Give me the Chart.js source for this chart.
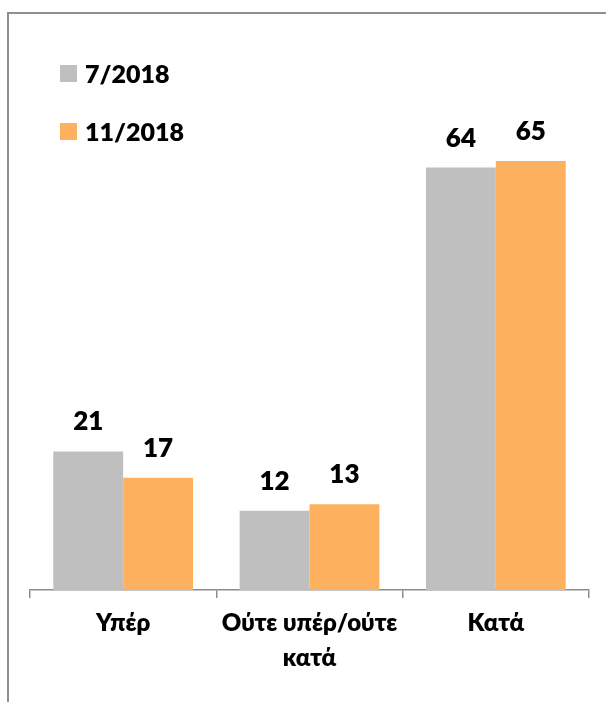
<!DOCTYPE html>
<html>
<head>
<meta charset="utf-8">
<script src="https://cdn.jsdelivr.net/npm/chart.js@4.4.1/dist/chart.umd.min.js"></script>
<style>
  html, body { margin: 0; padding: 0; width: 606px; height: 702px; overflow: hidden; background: #fff; }
  #frame { position: absolute; left: 7px; top: 12px; width: 700px; height: 800px;
           border-left: 2px solid #8f8f8f; border-top: 2px solid #8f8f8f; }
  #chart { position: absolute; left: 0; top: 0; }
  .legend { position: absolute; left: 60px; font: 800 25px Lato, "Open Sans", sans-serif; color: #000;
            display: flex; align-items: center; height: 30px; }
  .legend span { display: inline-block; width: 17px; height: 17px; margin-right: 8px; }
</style>
</head>
<body>
<div id="frame"></div>
<canvas id="chart" width="606" height="702"></canvas>
<div id="legend"></div>
<script>
const categories = ['Υπέρ', ['Ούτε υπέρ/ούτε', 'κατά'], 'Κατά'];
const seriesNames = ['7/2018', '11/2018'];
const july = [21, 12, 64];
const november = [17, 13, 65];
const colors = ['#bfbfbf', '#fdb15e'];
const fontFamily = 'Lato, "Open Sans", sans-serif';

// legend, stacked at top left
const legendTops = [58, 116];
seriesNames.forEach((name, i) => {
    const item = document.createElement('div');
    item.className = 'legend';
    item.style.top = legendTops[i] + 'px';
    item.innerHTML = '<span style="background:' + colors[i] + '"></span>' + name;
    document.getElementById('legend').appendChild(item);
});

// value above each bar
const valueLabels = {
    id: 'valueLabels',
    afterDatasetsDraw(chart) {
        const ctx = chart.ctx;
        ctx.save();
        ctx.font = '800 26px ' + fontFamily;
        ctx.fillStyle = '#000';
        ctx.textAlign = 'center';
        ctx.textBaseline = 'alphabetic';
        chart.data.datasets.forEach((ds, i) => {
            chart.getDatasetMeta(i).data.forEach((bar, j) => {
                ctx.fillText(ds.data[j], bar.x, bar.y - 21);
            });
        });
        ctx.restore();
    }
};

const ctx = document.getElementById('chart').getContext('2d');
new Chart(ctx, {
    type: 'bar',
    data: {
        labels: categories,
        datasets: [
            { label: seriesNames[0], data: july, backgroundColor: colors[0] },
            { label: seriesNames[1], data: november, backgroundColor: colors[1] }
        ]
    },
    options: {
        responsive: false,
        animation: false,
        devicePixelRatio: 1,
        layout: { padding: { left: 30, right: 17, top: 128, bottom: 0 } },
        datasets: { bar: { categoryPercentage: 0.75, barPercentage: 1 } },
        plugins: {
            legend: { display: false },
            tooltip: { enabled: false }
        },
        scales: {
            x: {
                grid: {
                    offset: true,
                    drawOnChartArea: false,
                    drawTicks: true,
                    tickLength: 8,
                    color: '#8c8c8c',
                    lineWidth: 1.5
                },
                border: { display: true, color: '#8c8c8c', width: 1.5 },
                ticks: {
                    color: '#000',
                    font: { family: fontFamily, size: 24, weight: 800, lineHeight: 1.45 },
                    padding: 8,
                    maxRotation: 0,
                    autoSkip: false
                },
                afterFit(scale) { scale.height = 112; }
            },
            y: {
                display: false,
                min: 0,
                max: 70
            }
        }
    },
    plugins: [valueLabels]
});
</script>
</body>
</html>
